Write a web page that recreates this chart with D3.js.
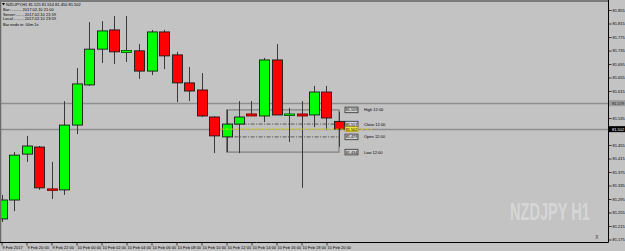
<!DOCTYPE html>
<html><head><meta charset="utf-8">
<script src="https://cdn.jsdelivr.net/npm/d3@7"></script>
<style>html,body{margin:0;padding:0;background:#c3c3c3;overflow:hidden}svg{display:block}</style>
</head><body><svg id="c" width="625" height="251"></svg>
<script>
// ---- data ----
const bars = ["2017.02.09 18:00","2017.02.09 19:00","2017.02.09 20:00","2017.02.09 21:00","2017.02.09 22:00","2017.02.09 23:00",
  "2017.02.10 00:00","2017.02.10 01:00","2017.02.10 02:00","2017.02.10 03:00","2017.02.10 04:00","2017.02.10 05:00",
  "2017.02.10 06:00","2017.02.10 07:00","2017.02.10 08:00","2017.02.10 09:00","2017.02.10 10:00","2017.02.10 11:00",
  "2017.02.10 12:00","2017.02.10 13:00","2017.02.10 14:00","2017.02.10 15:00","2017.02.10 16:00","2017.02.10 17:00",
  "2017.02.10 18:00","2017.02.10 19:00","2017.02.10 20:00","2017.02.10 21:00"];
const openV  = [81.236,81.292,81.428,81.449,81.325,81.322,81.514,81.633,81.739,81.796,81.729,81.734,81.674,81.790,81.722,81.639,81.618,81.538,81.479,81.517,81.547,81.541,81.707,81.544,81.547,81.544,81.612,81.525];
const highV  = [81.307,81.434,81.482,81.452,81.405,81.585,81.683,81.819,81.822,81.837,81.837,81.754,81.796,81.796,81.731,81.686,81.668,81.541,81.559,81.585,81.585,81.713,81.754,81.565,81.585,81.630,81.630,81.554];
const lowV   = [81.227,81.259,81.405,81.322,81.295,81.307,81.487,81.630,81.698,81.695,81.701,81.651,81.662,81.680,81.582,81.585,81.538,81.431,81.434,81.431,81.541,81.523,81.544,81.464,81.328,81.508,81.499,81.450];
const closeV = [81.292,81.425,81.452,81.328,81.322,81.514,81.636,81.739,81.793,81.731,81.735,81.674,81.790,81.719,81.639,81.615,81.541,81.482,81.517,81.538,81.541,81.707,81.544,81.547,81.541,81.612,81.535,81.502];
const priceTicks = [81.855,81.815,81.775,81.735,81.695,81.655,81.615,81.535,81.455,81.415,81.375,81.335,81.295,81.255,81.215,81.175];
const timeTickIndex = [0,2,4,6,8,10,12,14,16,18,20,22,24,26];
const timeTickLabels = ["9 Feb 2017","9 Feb 20:00","9 Feb 22:00","10 Feb 00:00","10 Feb 02:00","10 Feb 04:00","10 Feb 06:00",
  "10 Feb 08:00","10 Feb 10:00","10 Feb 12:00","10 Feb 14:00","10 Feb 16:00","10 Feb 18:00","10 Feb 20:00"];
const levelNames  = ["High 12:00","Close 12:00","Open 12:00","Low 12:00"];
const levelValues = [81.559,81.517,81.479,81.434];
const refBarIndex = 18;   // 12:00 bar
const userLine = 81.579;
const bidPrice = 81.502;
const headerLines = ["NZDJPY,H1  81.525 81.554 81.450 81.502","Bar:..........  2017.02.10 21:00","Server:.......  2017.02.10 21:59","Local:.........  2017.02.10 23:59","Bar ends in:  00m 1s"];

// ---- layout ----
const W = 625, H = 251, plotR = 608.5, plotB = 242.5;
const svg = d3.select("#c");
const FONT = "'Liberation Sans', Arial, sans-serif";
svg.append("rect").attr("width",W).attr("height",H).attr("fill","#c3c3c3");

const x = d3.scaleLinear().domain([0, bars.length-1]).range([1.5, 339]);
const y = d3.scaleLinear().domain([81.855, 81.175]).range([10, 239.5]);

// watermark (scaled horizontally to fit 510..590)
const wm = svg.append("text").attr("x",0).attr("y",0).attr("font-family",FONT).attr("font-weight","bold")
  .attr("font-size",23.5).attr("fill","#d6d6d6").text("NZDJPY H1");
const wmLen = wm.node().getComputedTextLength();
wm.attr("transform",`translate(510,220) scale(${80/wmLen},1)`);

// horizontal lines
svg.append("line").attr("x1",0).attr("x2",plotR).attr("y1",Math.round(y(userLine))+0.5).attr("y2",Math.round(y(userLine))+0.5)
  .attr("stroke","#8e8e8e").attr("stroke-width",1.5);
svg.append("line").attr("x1",0).attr("x2",plotR).attr("y1",Math.round(y(bidPrice))+0.5).attr("y2",Math.round(y(bidPrice))+0.5)
  .attr("stroke","#8e8e8e").attr("stroke-width",1.5);

// range rectangle of 12:00 bar
const rx0 = x(refBarIndex), rx1 = x(bars.length-1);
svg.append("rect").attr("x",rx0).attr("y",y(levelValues[0])).attr("width",rx1-rx0)
  .attr("height",y(levelValues[3])-y(levelValues[0])).attr("fill","#bdbdbd").attr("fill-opacity",0.5)
  .attr("stroke","#707070").attr("stroke-width",1);
[levelValues[1], levelValues[2]].forEach(v=>{
  svg.append("line").attr("x1",rx0).attr("x2",rx1).attr("y1",y(v)).attr("y2",y(v))
    .attr("stroke","#404040").attr("stroke-width",0.8).attr("stroke-dasharray","4,1.5,1,1.5");
});

// candles
const data = bars.map((b,i)=>({i,o:openV[i],h:highV[i],l:lowV[i],c:closeV[i]}));
const g = svg.append("g");
g.selectAll("line.w").data(data).join("line").attr("class","w")
  .attr("x1",d=>Math.round(x(d.i))+0.5).attr("x2",d=>Math.round(x(d.i))+0.5)
  .attr("y1",d=>y(d.h)).attr("y2",d=>y(d.l)).attr("stroke","#3a3a3a").attr("stroke-width",1);
g.selectAll("rect.b").data(data).join("rect").attr("class","b")
  .attr("x",d=>Math.round(x(d.i))-4.5).attr("width",10)
  .attr("y",d=>y(Math.max(d.o,d.c)))
  .attr("height",d=>Math.max(1.5, Math.abs(y(d.o)-y(d.c))))
  .attr("fill",d=>d.c>=d.o?"#00ff00":"#ff0000")
  .attr("stroke",d=>Math.abs(y(d.o)-y(d.c))<2.5?(d.c>=d.o?"#006000":"#800000"):"#1a1a1a").attr("stroke-width",0.9);

// yellow current-price dashed line
svg.append("line").attr("x1",rx0-6).attr("x2",372).attr("y1",y(bidPrice)).attr("y2",y(bidPrice))
  .attr("stroke","#e0d000").attr("stroke-width",1).attr("stroke-dasharray","3,2");

// level labels
levelValues.forEach((v,k)=>{
  const yy = y(v);
  svg.append("rect").attr("x",345).attr("y",yy-2.8).attr("width",13).attr("height",5.6)
    .attr("fill","#d0d0d0").attr("stroke","#303030").attr("stroke-width",0.8);
  svg.append("text").attr("x",351.5).attr("y",yy+1.5).attr("text-anchor","middle").attr("font-family",FONT)
    .attr("font-size",3.8).attr("fill","#000").text(v.toFixed(3));
  svg.append("text").attr("x",364).attr("y",yy+1.5).attr("font-family",FONT)
    .attr("font-size",4).attr("fill","#000").text(levelNames[k]);
});
svg.append("rect").attr("x",345).attr("y",y(bidPrice)-2.5).attr("width",13).attr("height",5)
  .attr("fill","#f0e040").attr("stroke","#a09000").attr("stroke-width",0.6);
svg.append("text").attr("x",351.5).attr("y",y(bidPrice)+1.5).attr("text-anchor","middle").attr("font-family",FONT)
  .attr("font-size",3.8).attr("fill","#000").text(bidPrice.toFixed(3));

// frame
svg.append("line").attr("x1",0.5).attr("x2",0.5).attr("y1",0).attr("y2",plotB).attr("stroke","#6a6a6a").attr("stroke-width",1.5);
svg.append("line").attr("x1",0).attr("x2",plotR).attr("y1",1).attr("y2",1).attr("stroke","#7a7a7a").attr("stroke-width",2);

// axes
const yAxis = svg.append("g").attr("transform",`translate(${plotR},0)`)
  .call(d3.axisRight(y).tickValues(priceTicks).tickFormat(d3.format(".3f")).tickSize(3).tickPadding(1));
const xAxis = svg.append("g").attr("transform",`translate(0,${plotB})`)
  .call(d3.axisBottom(x).tickValues(timeTickIndex).tickFormat((d,i)=>timeTickLabels[i]).tickSize(3).tickPadding(1));
[yAxis,xAxis].forEach(a=>{
  a.selectAll("text").attr("font-family",FONT).attr("font-size",4).attr("fill","#000");
  a.selectAll("line").attr("stroke","#000").attr("stroke-width",0.7);
  a.select(".domain").attr("stroke","#000").attr("stroke-width",1);
});
xAxis.selectAll("text").attr("text-anchor","start").attr("dx",0.5);
yAxis.select(".domain").attr("d",`M0,0V${plotB}`);
xAxis.select(".domain").attr("d",`M0,0H${plotR}`);

// price tags on axis
function tag(v, bg, fg){
  const yy = y(v);
  svg.append("rect").attr("x",plotR+0.5).attr("y",yy-3).attr("width",16).attr("height",6).attr("fill",bg);
  svg.append("text").attr("x",plotR+3.5).attr("y",yy+1.5).attr("font-family",FONT).attr("font-size",4)
    .attr("fill",fg).text(v.toFixed(3));
}
tag(userLine,"#9c9c9c","#202020");
tag(bidPrice,"#000000","#ffffff");

// header
svg.append("path").attr("d","M2,3 L5,3 L3.5,5.5 Z").attr("fill","#000");
headerLines.forEach((t,k)=>{
  svg.append("text").attr("x",k===0?6:3).attr("y",[5.5,11,15.5,20,26][k]).attr("font-family",FONT)
    .attr("font-size",4).attr("fill","#000").text(t);
});
// small icon bottom-right
svg.append("text").attr("x",599).attr("y",239).attr("text-anchor","end").attr("font-family",FONT)
  .attr("font-size",4.5).attr("fill","#505050").text("⊼");
</script></body></html>
